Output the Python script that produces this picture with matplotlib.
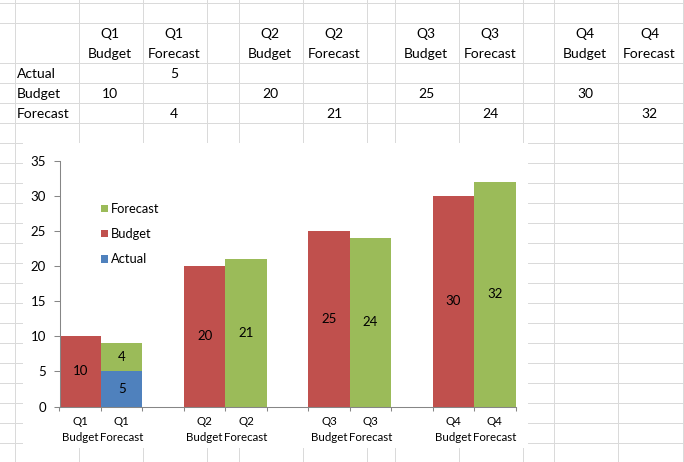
import matplotlib
matplotlib.use('Agg')
import matplotlib.pyplot as plt
from matplotlib.patches import Rectangle
from matplotlib.ticker import NullFormatter

plt.rcParams['font.family'] = ['Lato', 'DejaVu Sans']

# data
categories = ['Q1\nBudget', 'Q1\nForecast', '', 'Q2\nBudget', 'Q2\nForecast', '',
              'Q3\nBudget', 'Q3\nForecast', '', 'Q4\nBudget', 'Q4\nForecast']
series_names = ['Actual', 'Budget', 'Forecast']
actual = [None, 5, None, None, None, None, None, None, None, None, None]
budget = [10, None, None, 20, None, None, 25, None, None, 30, None]
forecast = [None, 4, None, None, 21, None, None, 24, None, None, 32]
y_ticks = [0, 5, 10, 15, 20, 25, 30, 35]
colors = ['#4F81BD', '#C0504D', '#9BBB59']

# sheet layout in pixels
W, H = 684, 462
col_edges = [14, 78, 142, 206, 238, 302, 366, 394, 458, 522, 553, 617, 682]
row_edges = [2, 22, 62, 82, 102, 122] + list(range(142, 462, 20))
grid_col = '#DADADA'
axis_col = '#868686'

fig = plt.figure(figsize=(W / 100, H / 100), dpi=100)
sheet = fig.add_axes([0, 0, 1, 1])
sheet.set_xlim(0, W)
sheet.set_ylim(H, 0)
sheet.axis('off')

for x in col_edges:
    sheet.axvline(x + 0.5, color=grid_col, lw=0.72)
for y in row_edges:
    sheet.axhline(y + 0.5, color=grid_col, lw=0.72)

# table text
data = [actual, budget, forecast]
for i, cat in enumerate(categories):
    cx = (col_edges[i + 1] + col_edges[i + 2]) / 2
    if cat:
        top, bottom = cat.split('\n')
        sheet.text(cx, 38.5, top, ha='center', va='baseline', fontsize=10)
        sheet.text(cx, 58, bottom, ha='center', va='baseline', fontsize=10)
    for r, s in enumerate(data):
        if s[i] is not None:
            sheet.text(cx, 77.5 + 20 * r, str(s[i]), ha='center', va='baseline', fontsize=10)
for r, name in enumerate(series_names):
    sheet.text(17, 77.5 + 20 * r, name, ha='left', va='baseline', fontsize=10)

# chart background
sheet.add_patch(Rectangle((23, 143), 505, 305, facecolor='white', edgecolor='none', zorder=3))

# chart
ax = fig.add_axes([59.5 / W, 1 - 406.5 / H, 456 / W, (406.5 - 160.5) / H])
ax.patch.set_alpha(0)
xs = list(range(len(categories)))
base = [0] * len(categories)
handles = []
for name, s, c in zip(series_names, data, colors):
    h = [v if v is not None else 0 for v in s]
    bars = ax.bar(xs, h, width=1.0, bottom=base, color=c, linewidth=0, label=name)
    ax.bar_label(bars, labels=['' if v is None else str(v) for v in s],
                 label_type='center', fontsize=9.5)
    handles.append(bars)
    base = [b + v for b, v in zip(base, h)]

ax.set_xlim(-0.5, len(categories) - 0.5)
ax.set_ylim(0, 35)
ax.set_yticks(y_ticks)
ax.set_xticks([i - 0.5 for i in range(len(categories) + 1)])
ax.xaxis.set_major_formatter(NullFormatter())
ax.set_xticks(xs, categories, minor=True)
for t in ax.get_xticklabels(minor=True):
    t.set_linespacing(1.6)
ax.tick_params(axis='x', which='major', length=3, color=axis_col, width=0.75)
ax.tick_params(axis='x', which='minor', length=0, pad=6.5, labelsize=8.3)
ax.tick_params(axis='y', length=4.3, color=axis_col, width=0.75, pad=5.5, labelsize=9.5)
for sp in ['top', 'right']:
    ax.spines[sp].set_visible(False)
for sp in ['left', 'bottom']:
    ax.spines[sp].set_color(axis_col)
    ax.spines[sp].set_linewidth(0.75)

ax.legend(handles[::-1], series_names[::-1], loc='upper left',
          bbox_to_anchor=(101 / W, 1 - 203 / H), bbox_transform=fig.transFigure,
          frameon=False, fontsize=9.3, handlelength=0.54, handleheight=0.54,
          handletextpad=0.26, labelspacing=1.02, borderpad=0, borderaxespad=0)

fig.savefig('out.png', dpi=100)
